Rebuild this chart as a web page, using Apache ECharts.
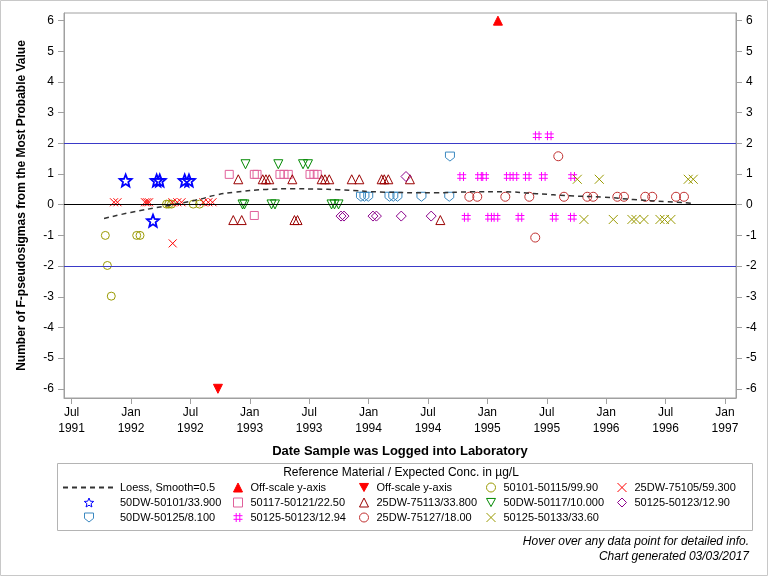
<!DOCTYPE html>
<html>
<head>
<meta charset="utf-8">
<script src="https://cdn.jsdelivr.net/npm/echarts@6/dist/echarts.min.js"></script>
<style>
  html, body { margin: 0; padding: 0; background: #fff; }
  #chart { width: 768px; height: 576px; }
</style>
</head>
<body>
<div id="chart"></div>
<script>
// x = date in decimal years, y = number of F-pseudosigmas
const xTicks = [1991.5, 1992, 1992.5, 1993, 1993.5, 1994, 1994.5, 1995, 1995.5, 1996, 1996.5, 1997]
const yTicks = [-6, -5, -4, -3, -2, -1, 0, 1, 2, 3, 4, 5, 6]

const loess = [[1991.773, -0.45], [1991.997, -0.25], [1992.278, -0.05], [1992.558, 0.16], [1992.721, 0.32],
  [1992.861, 0.40], [1993.142, 0.50], [1993.366, 0.52], [1993.563, 0.51], [1993.745, 0.49], [1994.146, 0.41],
  [1994.567, 0.39], [1994.876, 0.42], [1995.134, 0.42], [1995.415, 0.36], [1995.695, 0.29], [1995.976, 0.25],
  [1996.229, 0.17], [1996.509, 0.10], [1996.720, 0.05]]
const offUp = [[1995.089, 6]]
const offDown = [[1992.732, -6]]
const s50101_50115 = [[1991.784, -1.0], [1991.801, -1.98], [1991.834, -2.98], [1992.048, -1.0], [1992.076, -1.0],
  [1992.299, 0.02], [1992.318, 0.02], [1992.341, 0.02], [1992.524, 0.02], [1992.577, 0.02]]
const s25DW_75105 = [[1991.857, 0.08], [1991.886, 0.08], [1992.118, 0.08], [1992.135, 0.08], [1992.152, 0.08],
  [1992.349, 0.08], [1992.390, 0.08], [1992.425, 0.08], [1992.610, 0.08], [1992.651, 0.08], [1992.686, 0.08],
  [1992.351, -1.26]]
const s50DW_50101 = [[1991.955, 0.79], [1992.216, 0.79], [1992.242, 0.79], [1992.452, 0.79], [1992.488, 0.79],
  [1992.185, -0.52]]
const s50117_50121 = [[1992.827, 0.99], [1993.038, 0.99], [1993.061, 0.99], [1993.254, 0.99], [1993.288, 0.99],
  [1993.324, 0.99], [1993.507, 0.99], [1993.540, 0.99], [1993.568, 0.99], [1993.038, -0.35]]
const s25DW_75113 = [[1992.903, 0.83], [1993.109, 0.83], [1993.136, 0.83], [1993.164, 0.83], [1993.358, 0.83],
  [1993.605, 0.83], [1993.633, 0.83], [1993.669, 0.83], [1993.858, 0.83], [1993.922, 0.83], [1994.110, 0.83],
  [1994.132, 0.83], [1994.166, 0.83], [1994.348, 0.83],
  [1992.861, -0.50], [1992.932, -0.50], [1993.376, -0.50], [1993.402, -0.50], [1994.604, -0.50]]
const s50DW_50117 = [[1992.964, 1.32], [1993.240, 1.32], [1993.448, 1.32], [1993.490, 1.32],
  [1992.939, 0.01], [1992.955, 0.01], [1993.183, 0.01], [1993.212, 0.01], [1993.688, 0.01], [1993.713, 0.01],
  [1993.747, 0.01]]
const s50125_50123_90 = [[1993.768, -0.37], [1993.793, -0.37], [1994.037, -0.37], [1994.066, -0.37],
  [1994.275, -0.37], [1994.527, -0.37], [1994.315, 0.92]]
const s50DW_50125 = [[1993.936, 0.26], [1993.965, 0.26], [1993.997, 0.26], [1994.176, 0.26], [1994.208, 0.26],
  [1994.243, 0.26], [1994.445, 0.26], [1994.679, 0.26], [1994.685, 1.57]]
const s50125_50123_94 = [[1994.784, 0.92], [1994.934, 0.92], [1994.976, 0.92], [1995.176, 0.92], [1995.232, 0.92],
  [1995.336, 0.92], [1995.471, 0.92], [1995.718, 0.92], [1995.420, 2.25], [1995.521, 2.25],
  [1994.822, -0.41], [1995.019, -0.41], [1995.072, -0.41], [1995.274, -0.41], [1995.563, -0.41], [1995.715, -0.41]]
const s25DW_75127 = [[1994.848, 0.26], [1994.915, 0.26], [1995.151, 0.26], [1995.353, 0.26], [1995.645, 0.26],
  [1995.841, 0.26], [1995.891, 0.26], [1996.094, 0.26], [1996.150, 0.26], [1996.329, 0.26], [1996.388, 0.26],
  [1996.588, 0.26], [1996.655, 0.26], [1995.597, 1.58], [1995.403, -1.07]]
const s50125_50133 = [[1995.757, 0.83], [1995.942, 0.83], [1996.691, 0.83], [1996.733, 0.83],
  [1995.813, -0.48], [1996.060, -0.48], [1996.217, -0.48], [1996.251, -0.48], [1996.318, -0.48],
  [1996.453, -0.48], [1996.491, -0.48], [1996.545, -0.48]]

const FONT = '"Liberation Sans", Arial, sans-serif'
const STAR = 'path://M50,0L62.9,32.2L97.6,34.5L70.9,56.8L79.4,90.5L50,72L20.6,90.5L29.1,56.8L2.4,34.5L37.1,32.2Z'
const SHIELD = 'path://M0,0L10,0L10,6L5,10L0,6Z'
const HASH = 'path://M3,0L3,10M7,0L7,10M0,3L10,3M0,7L10,7'
const CROSS = 'path://M0,0L10,10M10,0L0,10'
const DOWN = 'path://M0,0L10,0L5,9Z'

// 散点系列
const pts = (name, data, symbol, color, size, filled, bw) => ({
  name: name,
  type: 'scatter',
  data: data,
  symbol: symbol,
  symbolSize: size,
  itemStyle: {
    color: filled ? color : 'rgba(0,0,0,0)',
    borderColor: color,
    borderWidth: bw || 1,
    opacity: 1
  },
  emphasis: { scale: false }
})

const labelMap = { offUp: 'Off-scale y-axis', offDown: 'Off-scale y-axis' }
const legendCol = (left, data, itemWidth, textPad) => ({
  orient: 'vertical',
  left: left,
  top: 482,
  padding: 0,
  itemGap: 4,
  itemWidth: itemWidth,
  itemHeight: 9,
  selectedMode: false,
  data: data,
  itemStyle: { borderWidth: 1 },
  formatter: (n) => labelMap[n] || n,
  textStyle: { fontSize: 11, color: '#000', fontFamily: FONT, padding: [0, 0, 0, textPad] }
})

const chart = echarts.init(document.getElementById('chart'))
chart.setOption({
  animation: false,
  textStyle: { fontFamily: FONT },
  tooltip: { trigger: 'item' },
  title: [
    {
      text: 'Reference Material / Expected Conc. in µg/L',
      left: 401, top: 467, textAlign: 'center', padding: 0,
      textStyle: { fontSize: 12, fontWeight: 'normal', color: '#000', fontFamily: FONT }
    },
    {
      text: 'Hover over any data point for detailed info.',
      right: 19, top: 536, padding: 0,
      textStyle: { fontSize: 12, fontWeight: 'normal', fontStyle: 'italic', color: '#000', fontFamily: FONT }
    },
    {
      text: 'Chart generated 03/03/2017',
      right: 19, top: 551, padding: 0,
      textStyle: { fontSize: 12, fontWeight: 'normal', fontStyle: 'italic', color: '#000', fontFamily: FONT }
    }
  ],
  graphic: [
    { type: 'rect', shape: { x: 0.5, y: 0.5, width: 767, height: 575 }, style: { fill: 'none', stroke: '#c8c8c8' }, silent: true },
    { type: 'rect', shape: { x: 57.5, y: 463.5, width: 695, height: 67 }, style: { fill: 'none', stroke: '#b4b4b4' }, silent: true }
  ],
  grid: {
    left: 64, right: 32, top: 13, bottom: 178,
    show: true, borderColor: '#a0a0a0', borderWidth: 1
  },
  xAxis: {
    type: 'value',
    min: 1991.436,
    max: 1997.093,
    name: 'Date Sample was Logged into Laboratory',
    nameLocation: 'middle',
    nameGap: 47,
    nameTextStyle: { fontSize: 13, fontWeight: 'bold', color: '#000', fontFamily: FONT },
    axisLine: { onZero: false, lineStyle: { color: '#a0a0a0' } },
    axisTick: { customValues: xTicks, length: 6, lineStyle: { color: '#a0a0a0' } },
    axisLabel: {
      customValues: xTicks,
      fontSize: 12, color: '#000', lineHeight: 16, margin: 7,
      formatter: (v) => (Math.round(v * 2) % 2 === 0 ? 'Jan' : 'Jul') + '\n' + Math.floor(v + 0.001)
    },
    splitLine: { show: false }
  },
  yAxis: [
    {
      type: 'value', min: -6.3, max: 6.25, position: 'left',
      name: 'Number of F-pseudosigmas from the Most Probable Value',
      nameLocation: 'middle', nameGap: 36,
      nameTextStyle: { fontSize: 12, fontWeight: 'bold', color: '#000', fontFamily: FONT },
      axisLine: { show: true, onZero: false, lineStyle: { color: '#a0a0a0' } },
      axisTick: { show: true, customValues: yTicks, length: 6, lineStyle: { color: '#a0a0a0' } },
      axisLabel: { customValues: yTicks, fontSize: 12, color: '#000', margin: 10 },
      splitLine: { show: false }
    },
    {
      type: 'value', min: -6.3, max: 6.25, position: 'right',
      axisLine: { show: true, onZero: false, lineStyle: { color: '#a0a0a0' } },
      axisTick: { show: true, customValues: yTicks, length: 6, lineStyle: { color: '#a0a0a0' } },
      axisLabel: { customValues: yTicks, fontSize: 12, color: '#000', margin: 10 },
      splitLine: { show: false }
    }
  ],
  legend: [
    legendCol(62, [{ name: 'Loess, Smooth=0.5', itemStyle: { opacity: 0 } }, '50DW-50101/33.900', '50DW-50125/8.100'], 52, 0),
    legendCol(233, ['offUp', '50117-50121/22.50', '50125-50123/12.94'], 9, 3),
    legendCol(359, ['offDown', '25DW-75113/33.800', '25DW-75127/18.00'], 9, 3),
    legendCol(486, ['50101-50115/99.90', '50DW-50117/10.000', '50125-50133/33.60'], 9, 3),
    legendCol(617, ['25DW-75105/59.300', '50125-50123/12.90'], 9, 3)
  ],
  series: [
    {
      name: 'Loess, Smooth=0.5',
      type: 'line',
      data: loess,
      smooth: true,
      symbol: 'none',
      z: 3,
      lineStyle: { color: '#333', width: 1.5, type: [5, 4] },
      itemStyle: { color: '#333' },
      markLine: {
        silent: true,
        symbol: 'none',
        label: { show: false },
        animation: false,
        data: [
          { yAxis: 2, lineStyle: { color: '#3a3ac8', type: 'solid', width: 1 } },
          { yAxis: -2, lineStyle: { color: '#3a3ac8', type: 'solid', width: 1 } },
          { yAxis: 0, lineStyle: { color: '#000', type: 'solid', width: 1 } }
        ]
      }
    },
    pts('offUp', offUp, 'triangle', '#ff0000', 9, true),
    pts('offDown', offDown, DOWN, '#ff0000', 9, true),
    pts('50101-50115/99.90', s50101_50115, 'circle', '#999900', 8),
    pts('25DW-75105/59.300', s25DW_75105, CROSS, '#ff0000', 8),
    pts('50DW-50101/33.900', s50DW_50101, STAR, '#0000ff', 12, false, 1.8),
    pts('50117-50121/22.50', s50117_50121, 'rect', '#e0609a', 8),
    pts('25DW-75113/33.800', s25DW_75113, 'triangle', '#990000', 9),
    pts('50DW-50117/10.000', s50DW_50117, DOWN, '#008800', 9),
    pts('50125-50123/12.90', s50125_50123_90, 'diamond', '#8b008b', 10),
    pts('50DW-50125/8.100', s50DW_50125, SHIELD, '#3a88c0', 9),
    pts('50125-50123/12.94', s50125_50123_94, HASH, '#ff00ff', 9),
    pts('25DW-75127/18.00', s25DW_75127, 'circle', '#c03030', 9),
    pts('50125-50133/33.60', s50125_50133, CROSS, '#999900', 9)
  ]
})
</script>
</body>
</html>
